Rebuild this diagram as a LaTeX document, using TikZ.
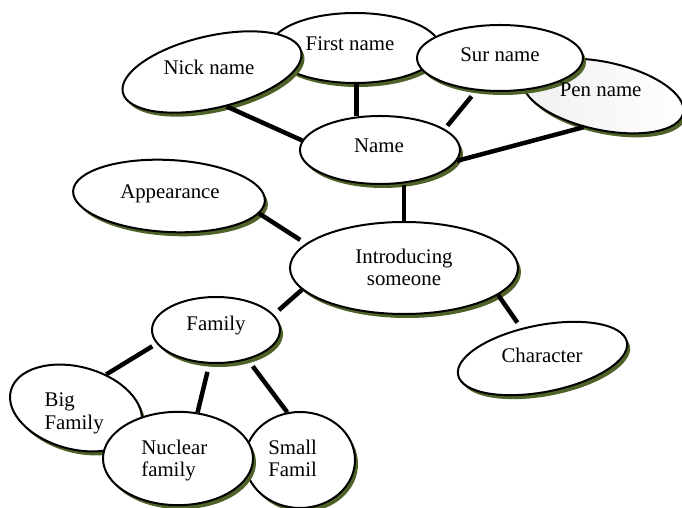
\documentclass[tikz,border=0pt]{standalone}
\usepackage{fontspec}
\setmainfont{Liberation Serif}
\usepackage{tikz}
\usetikzlibrary{shapes.geometric}
\usetikzlibrary{shadows}
\definecolor{olivedark}{RGB}{79,98,40}
\tikzset{bubble/.style={ellipse, draw, line width=1.2pt, fill=white, inner sep=0pt, drop shadow={shadow xshift=1.8pt, shadow yshift=-2.4pt, fill=olivedark, opacity=1}}}
\tikzset{word/.style={font=\fontsize{12.5}{13.6}\selectfont, inner sep=0pt, anchor=base}}
\tikzset{link/.style={line width=2.7pt}}

\begin{document}
\begin{tikzpicture}[x=0.6pt, y=-0.6pt]
\useasboundingbox (0,0) rectangle (682,508);
% ellipses, back to front
\node[bubble, left color=gray!12, right color=white, minimum width=98.4pt, minimum height=40.8pt, rotate=-12] (pen) at (603,96) {};
\node[bubble, minimum width=102pt, minimum height=42pt] (first) at (355,48) {};
\node[bubble, minimum width=109.8pt, minimum height=43.2pt, rotate=13] (nick) at (212,72) {};
\node[bubble, minimum width=99.6pt, minimum height=39.6pt] (sur) at (500,58) {};
\node[bubble, minimum width=96pt, minimum height=40.8pt] (name) at (380,150) {};
\node[bubble, minimum width=115.2pt, minimum height=43.2pt, rotate=-3] (appear) at (169,196) {};
\node[bubble, minimum width=136.8pt, minimum height=55.2pt] (intro) at (404,268) {};
\node[bubble, minimum width=103.2pt, minimum height=40.1pt, rotate=11] (char) at (542.5,358.5) {};
\node[bubble, minimum width=76.8pt, minimum height=39.6pt] (family) at (216,330) {};
\node[bubble, minimum width=80.9pt, minimum height=49.4pt, rotate=-15] (big) at (76,408) {};
\node[bubble, minimum width=66pt, minimum height=57.6pt] (small) at (300,460) {};
\node[bubble, minimum width=90pt, minimum height=56pt] (nuclear) at (178,458.5) {};
% texts (multi-line ones sit on their last baseline)
\node[word] (pentext) at (600.7,96.7) {Pen name};
\node[word] (firsttext) at (350,50.7) {First name};
\node[word] (nicktext) at (209,75) {Nick name};
\node[word] (surtext) at (500,61.7) {Sur name};
\node[word] (nametext) at (379,152.7) {Name};
\node[word] (appeartext) at (170,198.3) {Appearance};
\node[word, align=center] (introtext) at (404,285.7) {Introducing\\someone};
\node[word] (chartext) at (542,362.3) {Character};
\node[word] (familytext) at (216,330.7) {Family};
\node[word, align=left, anchor=base west] (bigtext) at (44.3,429.3) {Big\\Family};
\node[word, align=left, anchor=base west] (nucleartext) at (141,476.7) {Nuclear\\family};
\node[word, align=left, anchor=base west] (smalltext) at (268,476.7) {Small\\Famil};
% links
\draw[link] (nick.-80) -- (name.173);
\draw[link] (name.125) -- (name.125 |- first.south);
\draw[link, shorten <=4.5pt, shorten >=2.5pt] (sur.-126) -- (name.18);
\draw[link] (pen.-110) -- (name.-8);
\draw[link] (intro.north) -- (intro.north |- name.south);
\draw[link, shorten >=4pt] (appear.-8) -- (intro.166);
\draw[link, shorten >=4pt] (intro.-168) -- (family.15);
\draw[link, shorten >=4pt] (intro.-16) -- (char.114);
\draw[link, shorten <=3pt] (family.-167) -- (big.63);
\draw[link, shorten <=5pt] (family.-101) -- (nuclear.67);
\draw[link, shorten <=5pt] (family.-43) -- (small.105);
\end{tikzpicture}
\end{document}
